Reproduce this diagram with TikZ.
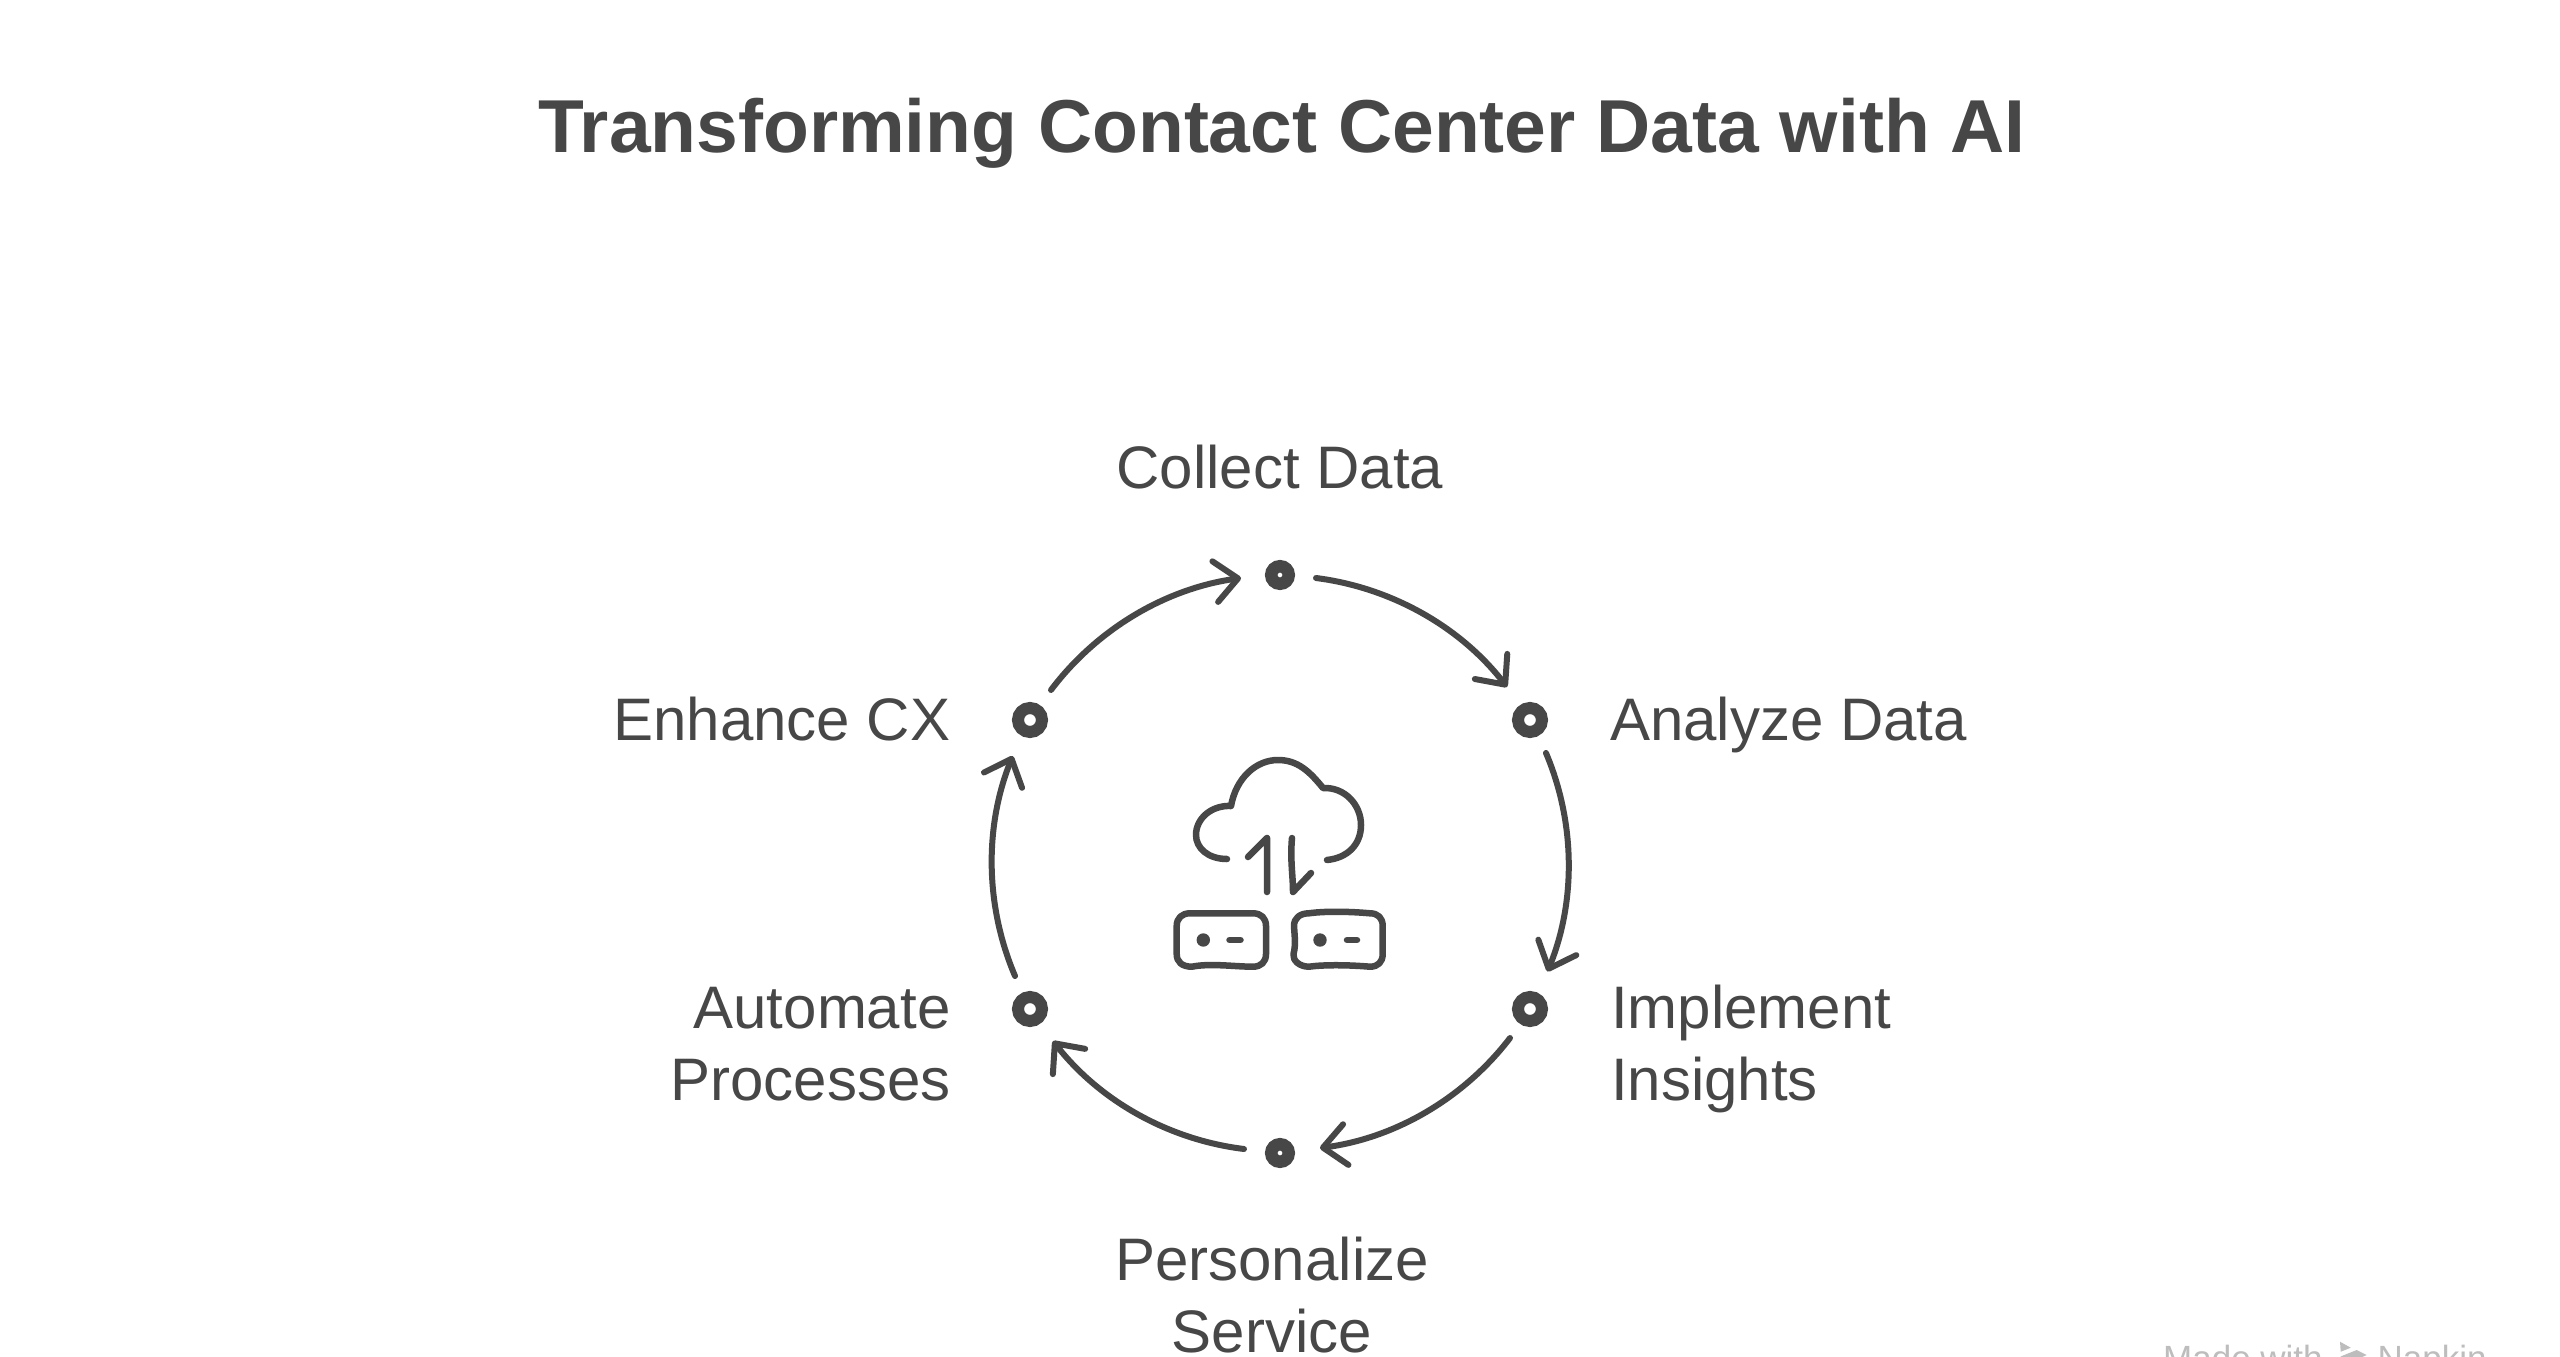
\documentclass[tikz,border=0pt]{standalone}
\usepackage{fontspec}
\setmainfont{Liberation Sans}
\usetikzlibrary{arrows.meta}
\definecolor{ink}{HTML}{474747}
\definecolor{wmgray}{HTML}{BDBDBD}
\tikzset{
  titletext/.style={text=ink,font=\fontsize{75}{90}\selectfont\bfseries,inner sep=0pt,anchor=base},
  steptext/.style={text=ink,font=\fontsize{60}{72}\selectfont,inner sep=0pt},
  dotsmall/.style={circle,draw=ink,fill=white,line width=12.5pt,minimum size=17.5pt,inner sep=0pt,outer sep=0pt},
  dotbig/.style={circle,draw=ink,fill=white,line width=12pt,minimum size=24pt,inner sep=0pt,outer sep=0pt},
  flow/.style={draw=ink,line width=6pt,line cap=round,line join=round,looseness=0.885,
    -{Straight Barb[length=23pt,width=41pt,round]}},
  sketch/.style={draw=ink,line width=6.5pt,line cap=round,line join=round},
  wmtext/.style={text=wmgray,font=\fontsize{35}{42}\selectfont,inner sep=0pt,anchor=base west}
}
\begin{document}
\begin{tikzpicture}[x=1pt,y=-1pt]
\clip (0,0) rectangle (2560,1357);
\fill[white] (0,0) rectangle (2560,1357);
\node[titletext] (title) at (1282,152) {Transforming Contact Center Data with AI};

\node[dotsmall] (d1) at (1280,575) {};
\node[dotbig] (d2) at (1530,720) {};
\node[dotbig] (d3) at (1530,1009) {};
\node[dotsmall] (d4) at (1280,1153) {};
\node[dotbig] (d5) at (1030,1009) {};
\node[dotbig] (d6) at (1030,720) {};

% free ends of the connectors, next to the dots
\coordinate (s1) at (1316,578);   \coordinate (e1) at (1507,687);
\coordinate (s2) at (1546,753);   \coordinate (e2) at (1547.5,971.5);
\coordinate (s3) at (1510,1038);  \coordinate (e3) at (1320,1148);
\coordinate (s4) at (1244,1149);  \coordinate (e4) at (1053,1041);
\coordinate (s5) at (1015,976);   \coordinate (e5) at (1012.7,756);
\coordinate (s6) at (1051,690);   \coordinate (e6) at (1241,578);
\draw[flow] (s1) to[bend left=22.5] (e1);
\draw[flow] (s2) to[bend left=22.5] (e2);
\draw[flow] (s3) to[bend left=22.5] (e3);
\draw[flow] (s4) to[bend left=22.5] (e4);
\draw[flow] (s5) to[bend left=22.5] (e5);
\draw[flow] (s6) to[bend left=22.5] (e6);

\node[steptext,anchor=base] (l1) at (1280,488) {Collect Data};
\node[steptext,anchor=base west] (l2) at (1610,740) {Analyze Data};
\node[steptext,anchor=north west,align=left] (l3) at (1611,984.5) {Implement\\Insights};
\node[steptext,anchor=north,align=center] (l4) at (1272,1236.5) {Personalize\\Service};
\node[steptext,anchor=north east,align=right] (l5) at (950.6,987.5) {Automate\\Processes};
\node[steptext,anchor=base east] (l6) at (950.6,740) {Enhance CX};

% cloud icon
\draw[sketch] (1227,859) .. controls (1208,859) and (1196,848) .. (1196,835)
  .. controls (1196,818) and (1212,805) .. (1231,806)
  .. controls (1236,778) and (1256,760) .. (1278,760)
  .. controls (1298,760) and (1310,772) .. (1323,788)
  .. controls (1345,787) and (1361,805) .. (1361,825)
  .. controls (1361,845) and (1347,858) .. (1327,860);
\draw[sketch] (1267,892) -- (1267,838) -- (1248,857);
\draw[sketch] (1292,838) .. controls (1290,860) and (1293,875) .. (1293,892) -- (1311,873);
% left box
\draw[sketch] (1190,913.3) -- (1253,913.3) .. controls (1261,913.3) and (1266,918) .. (1266,926)
  -- (1266,954) .. controls (1266,962) and (1261,966.7) .. (1253,966.7)
  .. controls (1235,966.7) and (1210,963) .. (1192,966.7)
  .. controls (1182,966.7) and (1176.7,962) .. (1176.7,954)
  -- (1176.7,926) .. controls (1176.7,918) and (1182,913.3) .. (1190,913.3) -- cycle;
% right box
\draw[sketch] (1309,913.3) .. controls (1325,911) and (1350,911.5) .. (1370,913.3)
  .. controls (1378,913.3) and (1382.7,918) .. (1382.7,926)
  -- (1382.7,954) .. controls (1382.7,962) and (1378,966.7) .. (1370,966.7)
  .. controls (1350,965) and (1325,964.5) .. (1309,966.7)
  .. controls (1299,966.7) and (1292.5,960) .. (1293.5,954)
  .. controls (1296,945) and (1294.5,935) .. (1294,926)
  .. controls (1294,918) and (1300,913.3) .. (1309,913.3) -- cycle;
\fill[ink] (1203.3,940) circle (6.7pt);
\fill[ink] (1320,940) circle (6.7pt);
\draw[sketch] (1229.5,940) -- (1240.5,940);
\draw[sketch] (1347,940) -- (1357,940);

% watermark
\node[wmtext] (w1) at (2163,1370) {Made with};
\node[wmtext] (w2) at (2377.5,1370) {Napkin};
\fill[wmgray] (2340,1341.7) -- (2350.7,1347.7) -- (2340.7,1351.7) -- cycle;
\fill[wmgray] (2340,1356.7) -- (2356.7,1350) -- (2366.7,1355) -- (2361.7,1357.3) -- cycle;
\end{tikzpicture}
\end{document}
